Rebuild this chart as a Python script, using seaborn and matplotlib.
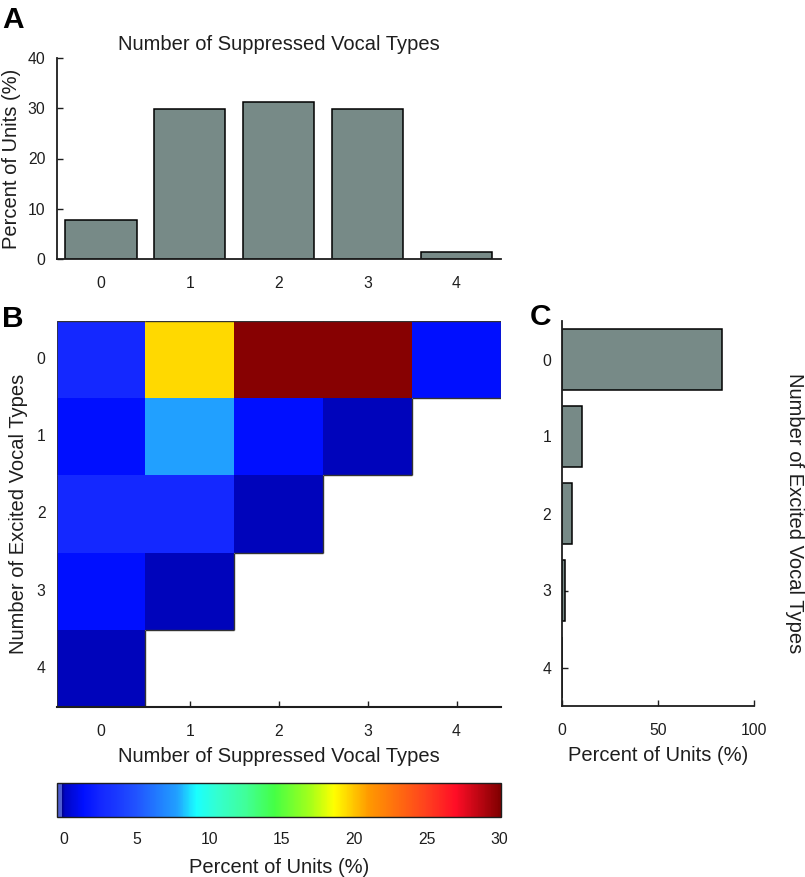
import numpy as np
import pandas as pd
import matplotlib
matplotlib.use("Agg")
import matplotlib.pyplot as plt
import seaborn as sns
from matplotlib.colors import LinearSegmentedColormap

# ---------------- data ----------------
type_counts = ["0", "1", "2", "3", "4"]
suppressed_pct = [7.8, 29.9, 31.2, 29.9, 1.3]      # panel A
excited_pct = [83.1, 10.4, 5.2, 1.3, 0.0]          # panel C
joint_row0 = [2.6, 19.5, 29.9, 29.9, 1.3]          # panel B, excited = 0
joint_row1 = [1.3, 7.8, 1.3, 0.0, np.nan]
joint_row2 = [2.6, 2.6, 0.0, np.nan, np.nan]
joint_row3 = [1.3, 0.0, np.nan, np.nan, np.nan]
joint_row4 = [0.0, np.nan, np.nan, np.nan, np.nan]
a_yticks = [0, 10, 20, 30, 40]
c_xticks = [0, 50, 100]
cbar_ticks = [0, 5, 10, 15, 20, 25, 30]

# ---------------- style ----------------
sns.set_theme(style="white")
plt.rcParams["font.family"] = ["Liberation Sans", "DejaVu Sans"]
TXT = "#1e1e1e"
BAR = "#778a87"
LAB = 14.5
TCK = 11.3

W, H = 805, 877
fig = plt.figure(figsize=(W / 100, H / 100), dpi=100)


def rect(l, t, r, b):
    return [l / W, 1 - b / H, (r - l) / W, (b - t) / H]


axA = fig.add_axes(rect(56.5, 58, 501, 259))
axB = fig.add_axes(rect(56.5, 321, 501, 707))
axC = fig.add_axes(rect(562.3, 321, 754, 706))
cax = fig.add_axes(rect(56.7, 783, 501, 817))

# ---------------- colormap (jet-like) ----------------
vmin, vmax = -0.5, 30.1
stops = [
    (-0.5, (0.31, 0.37, 0.82)),
    (-0.17, (0.31, 0.37, 0.82)),
    (-0.16, (0.0, 0.0, 0.55)),
    (0.0, (0.0, 0.02, 0.76)),
    (1.3, (0.0, 0.06, 1.0)),
    (2.6, (0.08, 0.16, 1.0)),
    (3.6, (0.10, 0.22, 1.0)),
    (5.0, (0.13, 0.33, 1.0)),
    (7.8, (0.13, 0.63, 1.0)),
    (9.1, (0.10, 1.0, 1.0)),
    (10.5, (0.20, 1.0, 0.82)),
    (12.5, (0.25, 1.0, 0.60)),
    (14.5, (0.27, 1.0, 0.27)),
    (17.0, (0.65, 1.0, 0.10)),
    (18.6, (1.0, 1.0, 0.0)),
    (21.0, (1.0, 0.60, 0.0)),
    (25.0, (1.0, 0.25, 0.12)),
    (27.0, (1.0, 0.05, 0.15)),
    (30.1, (0.5, 0.0, 0.0)),
]
cmap = LinearSegmentedColormap.from_list(
    "jetlike", [((v - vmin) / (vmax - vmin), c) for v, c in stops], N=512)

# ---------------- panel A ----------------
dfA = pd.DataFrame({"n": type_counts, "pct": suppressed_pct})
sns.barplot(data=dfA, x="n", y="pct", ax=axA, color=BAR, saturation=1,
            edgecolor="black", linewidth=1.1, width=0.8)
axA.set_xlim(-0.5, 4.5)
axA.set_ylim(0, 40)
axA.set_yticks(a_yticks)
axA.set_xlabel("")
axA.set_ylabel("Percent of Units (%)", fontsize=LAB, color=TXT, labelpad=5)
axA.set_title("Number of Suppressed Vocal Types", fontsize=LAB, color=TXT, pad=6)
sns.despine(ax=axA)
for s in ("left", "bottom"):
    axA.spines[s].set_color(TXT)
    axA.spines[s].set_linewidth(1.3)
axA.tick_params(axis="x", length=0, pad=12, labelsize=TCK, colors=TXT)
axA.tick_params(axis="y", left=True, direction="in", length=4, width=1,
                pad=8, labelsize=TCK, colors=TXT)

# ---------------- panel B ----------------
heat = np.array([joint_row0, joint_row1, joint_row2, joint_row3, joint_row4])
dfB = pd.DataFrame(heat, index=type_counts, columns=type_counts)
sns.heatmap(dfB, ax=axB, cmap=cmap, vmin=vmin, vmax=vmax, mask=dfB.isna(),
            cbar_ax=cax, cbar_kws={"orientation": "horizontal", "ticks": cbar_ticks},
            linewidths=0)
axB.set_xlim(0, 5)
axB.set_ylim(5, 0)
valid = ~np.isnan(heat)
n = heat.shape[0]
oc = "#333333"
for i in range(n):
    for j in range(n):
        if not valid[i, j]:
            continue
        if i == 0 or not valid[i - 1, j]:
            axB.plot([j, j + 1], [i, i], color=oc, lw=1.0, solid_capstyle="butt")
        if j == n - 1 or not valid[i, j + 1]:
            axB.plot([j + 1, j + 1], [i, i + 1], color=oc, lw=1.0, solid_capstyle="butt")
        if j == 0:
            axB.plot([j, j], [i, i + 1], color=oc, lw=0.6, solid_capstyle="butt")
        if i < n - 1 and not valid[i + 1, j]:
            axB.plot([j, j + 1], [i + 1, i + 1], color=oc, lw=1.0, solid_capstyle="butt")
axB.spines["bottom"].set_visible(True)
axB.spines["bottom"].set_color(TXT)
axB.spines["bottom"].set_linewidth(1.5)
axB.tick_params(axis="x", bottom=True, direction="in", length=4, width=1,
                pad=12, labelsize=TCK, colors=TXT, labelrotation=0)
axB.tick_params(axis="y", left=True, direction="in", length=4, width=1,
                pad=8, labelsize=TCK, colors=TXT, labelrotation=0)
axB.set_xlabel("Number of Suppressed Vocal Types", fontsize=LAB, color=TXT, labelpad=6)
axB.set_ylabel("Number of Excited Vocal Types", fontsize=LAB, color=TXT, labelpad=6)

# colorbar
cb = axB.collections[0].colorbar
cb.outline.set_edgecolor(TXT)
cb.outline.set_linewidth(1.0)
cax.tick_params(axis="x", top=True, bottom=True, direction="in", length=4, width=1,
                pad=11, labelsize=TCK, colors=TXT)
cax.set_xlabel("Percent of Units (%)", fontsize=LAB, color=TXT, labelpad=8)

# ---------------- panel C ----------------
dfC = pd.DataFrame({"n": type_counts, "pct": excited_pct})
sns.barplot(data=dfC, x="pct", y="n", orient="h", ax=axC, color=BAR, saturation=1,
            edgecolor="black", linewidth=1.1, width=0.8)
axC.set_xlim(0, 100)
axC.set_ylim(4.5, -0.5)
axC.set_xticks(c_xticks)
axC.set_xlabel("Percent of Units (%)", fontsize=LAB, color=TXT, labelpad=6)
axC.set_ylabel("Number of Excited Vocal Types", fontsize=LAB, color=TXT, rotation=-90)
axC.yaxis.set_label_coords(1.209, 0.5)
axC.yaxis.label.set_va("center")
axC.yaxis.label.set_ha("center")
sns.despine(ax=axC)
for s in ("left", "bottom"):
    axC.spines[s].set_color(TXT)
    axC.spines[s].set_linewidth(1.3)
axC.tick_params(axis="x", bottom=True, direction="in", length=4, width=1,
                pad=12, labelsize=TCK, colors=TXT)
axC.tick_params(axis="y", left=True, direction="in", length=4, width=1,
                pad=8, labelsize=TCK, colors=TXT)

# ---------------- panel letters ----------------
for lx, ly, letter in [(2, 28, "A"), (2, 327, "B"), (530, 325, "C")]:
    fig.text(lx / W, 1 - ly / H, letter, fontsize=21.5, fontweight="bold",
             color="black", ha="left", va="baseline")

fig.savefig("out.png", dpi=100)
